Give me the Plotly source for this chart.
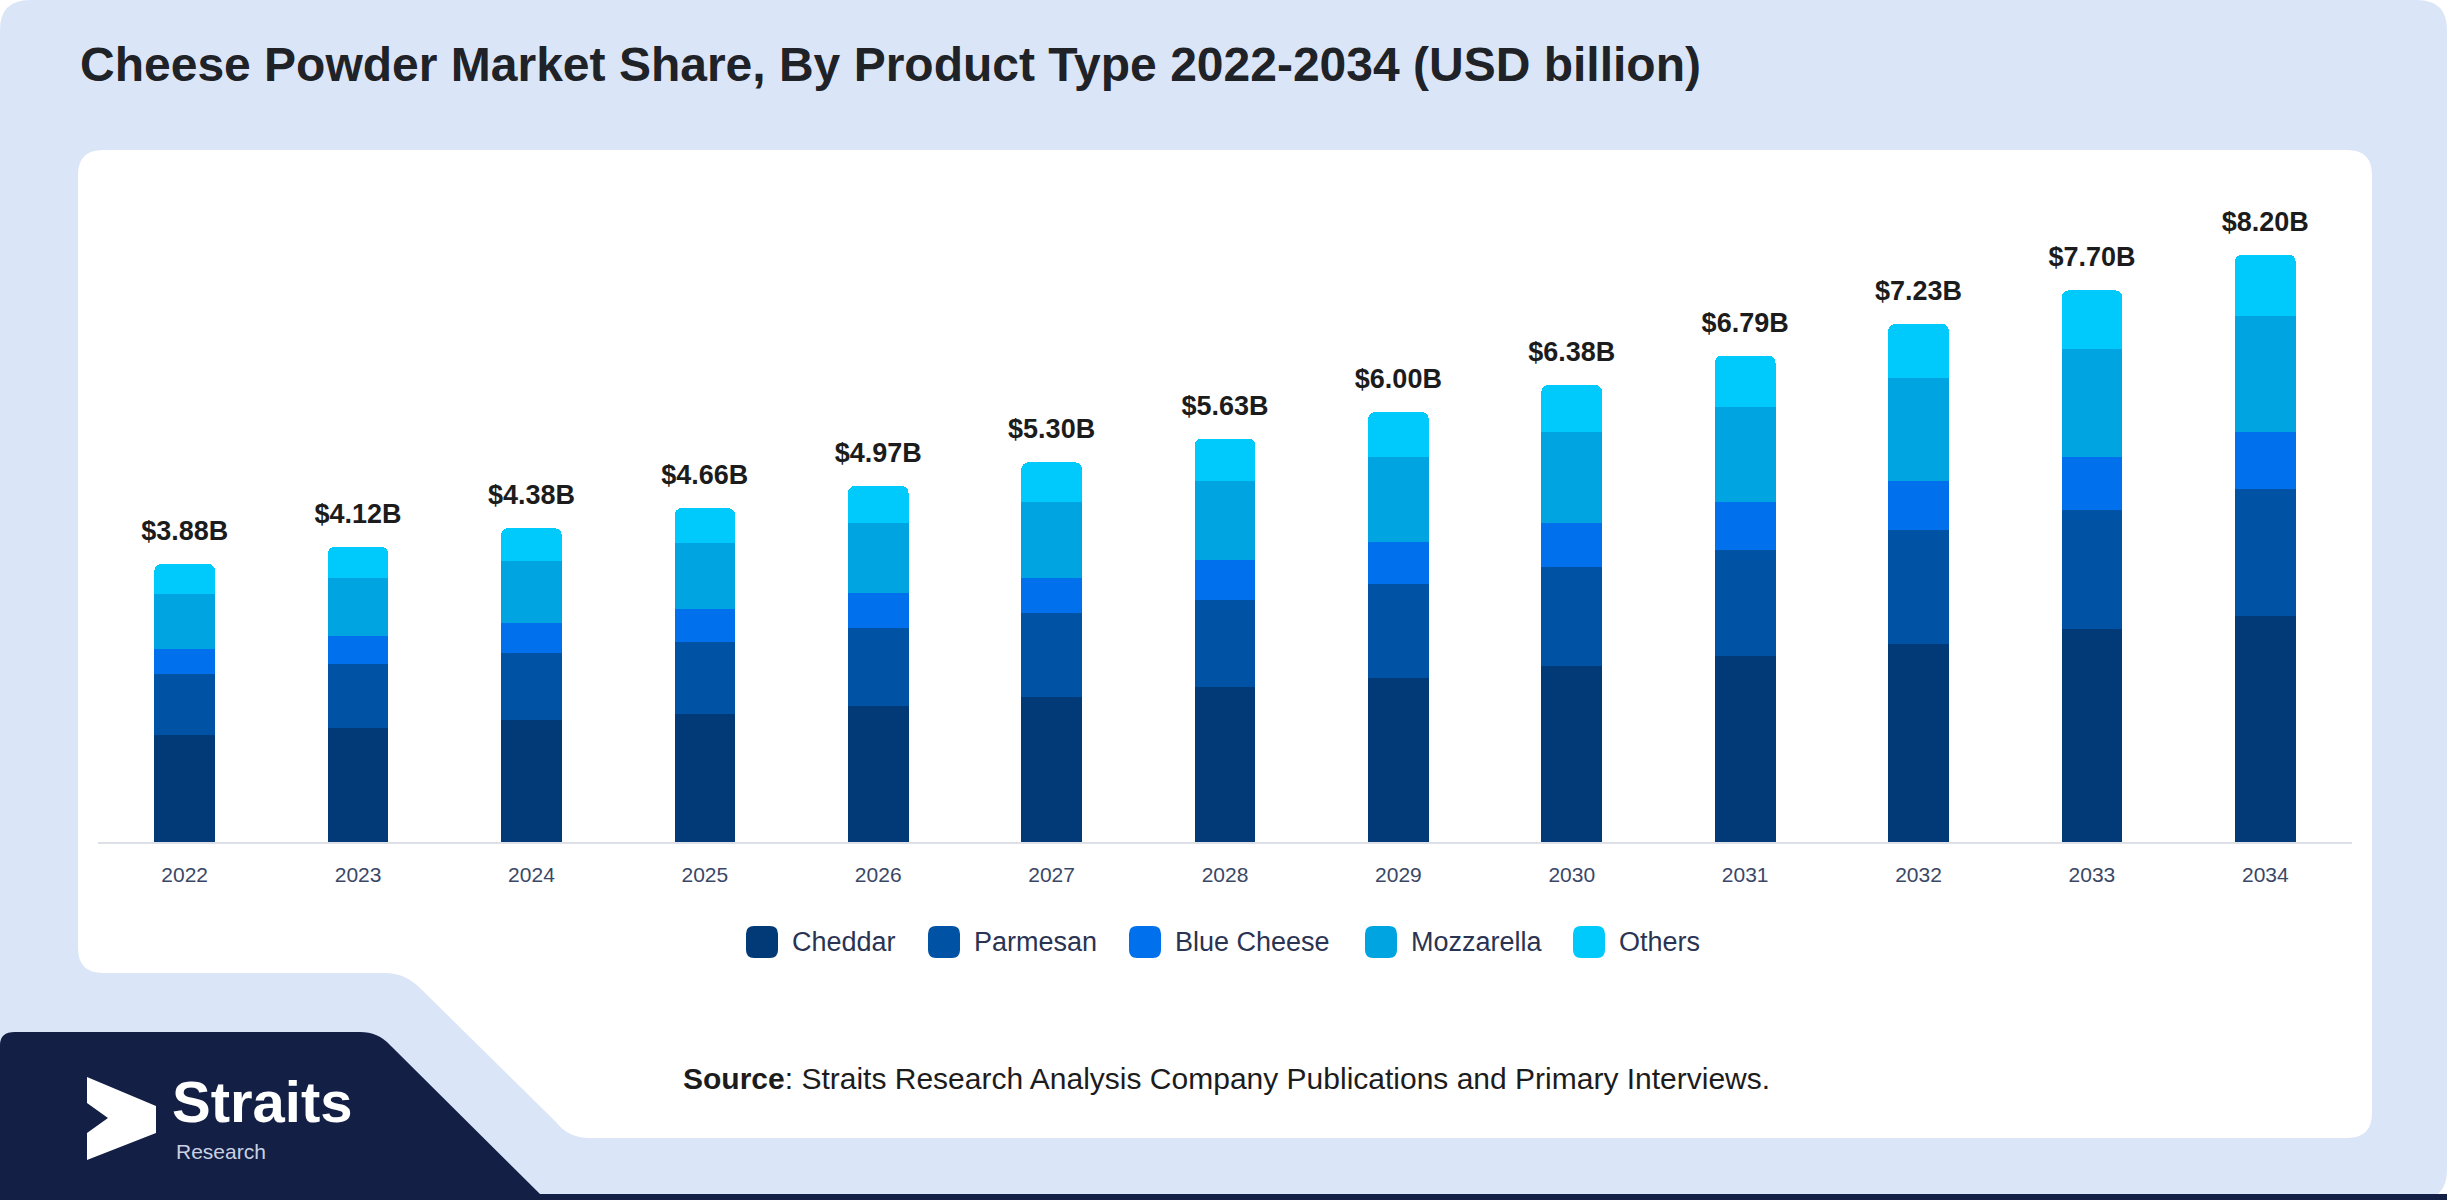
import plotly.graph_objects as go

W, H = 2450, 1200

# --- data (USD billion) ---
years = ["2022", "2023", "2024", "2025", "2026", "2027", "2028",
         "2029", "2030", "2031", "2032", "2033", "2034"]
cheddar = [1.50, 1.59, 1.70, 1.79, 1.90, 2.03, 2.16, 2.29, 2.45, 2.60, 2.77, 2.97, 3.16]
parmesan = [0.84, 0.89, 0.94, 1.00, 1.09, 1.16, 1.22, 1.31, 1.39, 1.48, 1.58, 1.66, 1.77]
blue_cheese = [0.36, 0.40, 0.42, 0.46, 0.48, 0.50, 0.55, 0.59, 0.61, 0.66, 0.69, 0.74, 0.79]
mozzarella = [0.76, 0.80, 0.86, 0.92, 0.98, 1.05, 1.11, 1.18, 1.27, 1.33, 1.44, 1.51, 1.62]
others = [0.42, 0.44, 0.46, 0.49, 0.52, 0.56, 0.59, 0.63, 0.66, 0.72, 0.75, 0.82, 0.86]
totals = [3.88, 4.12, 4.38, 4.66, 4.97, 5.30, 5.63, 6.00, 6.38, 6.79, 7.23, 7.70, 8.20]

series_names = ["Cheddar", "Parmesan", "Blue Cheese", "Mozzarella", "Others"]
series_values = [cheddar, parmesan, blue_cheese, mozzarella, others]
colors = ["#013a77", "#0052a4", "#0070ec", "#00a4e0", "#00c9fb"]

FONT = "Liberation Sans, Arial, sans-serif"


# pixel -> paper helpers (origin top-left, like the picture)
def px(x):
    return x / W


def py(y):
    return 1 - y / H


def path(cmds):
    out = []
    for c in cmds:
        if c[0] == "Z":
            out.append("Z")
        elif c[0] == "Q":
            out.append(f"Q{px(c[1]):.5f},{py(c[2]):.5f} {px(c[3]):.5f},{py(c[4]):.5f}")
        else:
            out.append(f"{c[0]}{px(c[1]):.5f},{py(c[2]):.5f}")
    return " ".join(out)


def round_rect(x0, y0, x1, y1, r):
    return path([("M", x0 + r, y0), ("L", x1 - r, y0), ("Q", x1, y0, x1, y0 + r),
                 ("L", x1, y1 - r), ("Q", x1, y1, x1 - r, y1),
                 ("L", x0 + r, y1), ("Q", x0, y1, x0, y1 - r),
                 ("L", x0, y0 + r), ("Q", x0, y0, x0 + r, y0), ("Z",)])


def pshape(p, fill, layer="below"):
    return dict(type="path", path=p, xref="paper", yref="paper",
                fillcolor=fill, line_width=0, layer=layer)


fig = go.Figure()
for name, vals, col in zip(series_names, series_values, colors):
    fig.add_trace(go.Bar(x=years, y=vals, name=name, marker_color=col,
                         marker_line_width=0, showlegend=False))

# totals above the stacks
fig.add_trace(go.Scatter(x=years, y=totals, mode="markers+text",
                         text=[f"<b>${t:.2f}B</b>" for t in totals],
                         textposition="top center",
                         marker=dict(size=26, color="rgba(0,0,0,0)"),
                         textfont=dict(family=FONT, size=27, color="#1c1c1c"),
                         showlegend=False, hoverinfo="skip", cliponaxis=False))

shapes = []
# light blue card
shapes.append(pshape(round_rect(0, 0, 2447, 1200, 30), "#dae6f8"))
# white panel with the stepped bottom-left corner
shapes.append(pshape(path([("M", 103, 150), ("L", 2347, 150), ("Q", 2372, 150, 2372, 175),
                           ("L", 2372, 1113), ("Q", 2372, 1138, 2347, 1138),
                           ("L", 590, 1138), ("Q", 568, 1138, 556, 1122),
                           ("L", 420, 988), ("Q", 405, 973, 385, 973),
                           ("L", 103, 973), ("Q", 78, 973, 78, 948),
                           ("L", 78, 175), ("Q", 78, 150, 103, 150), ("Z",)]), "white"))
# navy block bottom-left + bottom strip
shapes.append(pshape(path([("M", 0, 1045), ("Q", 0, 1032, 15, 1032), ("L", 360, 1032),
                           ("Q", 378, 1032, 390, 1045), ("L", 540, 1194),
                           ("L", 2447, 1194), ("L", 2447, 1200), ("L", 0, 1200), ("Z",)]),
                     "#131f45"))
# logo mark
shapes.append(pshape(path([("M", 87, 1077), ("L", 156, 1106), ("L", 156, 1133),
                           ("L", 87, 1160), ("L", 87, 1133), ("L", 108, 1118),
                           ("L", 87, 1103), ("Z",)]), "white", "above"))

annotations = []
annotations.append(dict(text="<b>Cheese Powder Market Share, By Product Type 2022-2034 (USD billion)</b>",
                        xref="paper", yref="paper", x=px(78), y=py(64), xanchor="left",
                        yanchor="middle", showarrow=False,
                        font=dict(family=FONT, size=48, color="#1f2227")))

# legend drawn by hand (bigger rounded swatches than plotly's own)
legend_swatch_x = [762, 944, 1145, 1381, 1589]
legend_y = 942
for name, col, sx in zip(series_names, colors, legend_swatch_x):
    shapes.append(pshape(round_rect(sx - 16, legend_y - 16, sx + 16, legend_y + 16, 8),
                         col, "above"))
    annotations.append(dict(text=name, xref="paper", yref="paper", x=px(sx + 28),
                            y=py(legend_y), xanchor="left", yanchor="middle",
                            showarrow=False,
                            font=dict(family=FONT, size=27, color="#2a3452")))

annotations.append(dict(text="<b>Source</b>: Straits Research Analysis Company Publications and Primary Interviews.",
                        xref="paper", yref="paper", x=px(681), y=py(1078), xanchor="left",
                        yanchor="middle", showarrow=False,
                        font=dict(family=FONT, size=30, color="#1c1c1c")))
annotations.append(dict(text="<b>Straits</b>", xref="paper", yref="paper", x=px(170),
                        y=py(1101), xanchor="left", yanchor="middle", showarrow=False,
                        font=dict(family=FONT, size=58, color="white")))
annotations.append(dict(text="Research", xref="paper", yref="paper", x=px(174),
                        y=py(1151), xanchor="left", yanchor="middle", showarrow=False,
                        font=dict(family=FONT, size=21, color="#c9d1e2")))

fig.update_layout(
    width=W, height=H,
    margin=dict(l=0, r=0, t=0, b=0),
    paper_bgcolor="white", plot_bgcolor="rgba(0,0,0,0)",
    barmode="stack", bargap=0.65, barcornerradius=7,
    shapes=shapes, annotations=annotations,
    showlegend=False,
    xaxis=dict(domain=[px(98), px(2352)], type="category", range=[-0.5, 12.5],
               showline=True, linecolor="#dde1e7", linewidth=2, showgrid=False,
               ticks="outside", ticklen=13, tickcolor="rgba(0,0,0,0)",
               tickfont=dict(family=FONT, size=21, color="#3a4766"), fixedrange=True),
    yaxis=dict(domain=[py(842), py(180)], range=[0, 9.24], visible=False,
               showgrid=False, zeroline=False, fixedrange=True),
)

fig.write_html("out.html", config={"displayModeBar": False},
               post_script="document.body.style.margin='0';")
